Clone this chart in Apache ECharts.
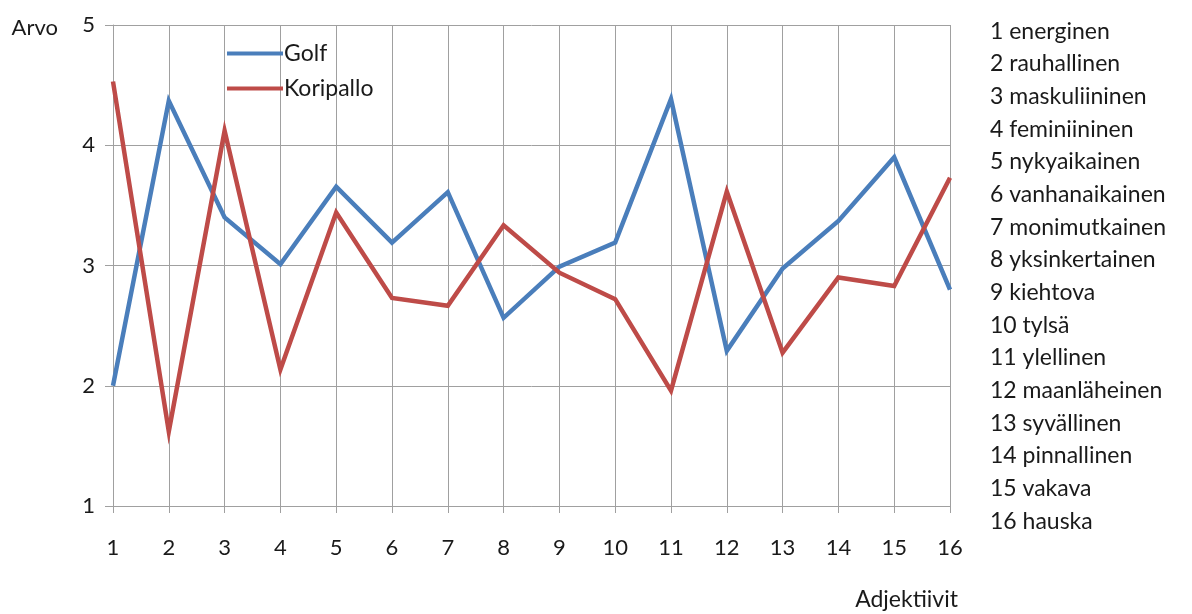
<!DOCTYPE html>
<html>
<head>
<meta charset="utf-8">
<script src="https://cdn.jsdelivr.net/npm/echarts@6/dist/echarts.min.js"></script>
<style>
  html, body { margin: 0; padding: 0; background: #fff; }
  #chart { width: 1192px; height: 614px; }
</style>
</head>
<body>
<div id="chart"></div>
<script>
// Adjective numbers on the x axis and their meanings in the side list
const categories = ['1','2','3','4','5','6','7','8','9','10','11','12','13','14','15','16'];
const adjectives = [
  'energinen', 'rauhallinen', 'maskuliininen', 'feminiininen',
  'nykyaikainen', 'vanhanaikainen', 'monimutkainen', 'yksinkertainen',
  'kiehtova', 'tylsä', 'ylellinen', 'maanläheinen',
  'syvällinen', 'pinnallinen', 'vakava', 'hauska'
];

// Mean ratings per adjective
const golf = [2.00, 4.37, 3.40, 3.01, 3.655, 3.19, 3.61, 2.565, 2.99, 3.19, 4.385, 2.29, 2.975, 3.37, 3.90, 2.80];
const koripallo = [4.53, 1.62, 4.12, 2.135, 3.44, 2.73, 2.665, 3.335, 2.94, 2.72, 1.96, 3.615, 2.275, 2.90, 2.83, 3.73];

const seriesNames = ['Golf', 'Koripallo'];
const yTicks = { min: 1, max: 5, interval: 1 };

const FONT = 'Lato, "Open Sans", sans-serif';
const TEXT = '#1a1a1a';
const GRID = '#a0a0a0';

const chart = echarts.init(document.getElementById('chart'), null, { renderer: 'canvas' });

chart.setOption({
  animation: false,
  backgroundColor: '#ffffff',
  textStyle: { fontFamily: FONT, color: TEXT },
  grid: { left: 113, right: 242, top: 25, bottom: 108, containLabel: false },
  legend: {
    orient: 'vertical',
    left: 222,
    top: 37,
    itemWidth: 56,
    itemHeight: 4,
    itemGap: 12,
    icon: 'rect',
    data: seriesNames,
    textStyle: { fontFamily: FONT, fontSize: 23, color: TEXT, padding: [0, 0, 0, -4] }
  },
  xAxis: {
    type: 'category',
    data: categories,
    boundaryGap: false,
    name: 'Adjektiivit',
    nameLocation: 'end',
    nameGap: 8,
    nameTextStyle: { fontFamily: FONT, fontSize: 23, color: TEXT, align: 'right', verticalAlign: 'top', padding: [82, 0, 0, 0] },
    axisLine: { show: true, lineStyle: { color: GRID, width: 1 } },
    axisTick: { show: true, length: 7, alignWithLabel: true, lineStyle: { color: GRID } },
    axisLabel: { fontFamily: FONT, fontSize: 22, color: TEXT, margin: 31 },
    splitLine: { show: true, lineStyle: { color: GRID, width: 1 } }
  },
  yAxis: {
    type: 'value',
    min: yTicks.min,
    max: yTicks.max,
    interval: yTicks.interval,
    name: 'Arvo',
    nameLocation: 'end',
    nameGap: -3,
    nameTextStyle: { fontFamily: FONT, fontSize: 22, color: TEXT, align: 'right', verticalAlign: 'middle', padding: [0, 55, 0, 0] },
    axisLine: { show: true, lineStyle: { color: GRID, width: 1 } },
    axisTick: { show: true, length: 8, lineStyle: { color: GRID } },
    axisLabel: { fontFamily: FONT, fontSize: 22, color: TEXT, margin: 18 },
    splitLine: { show: true, lineStyle: { color: GRID, width: 1 } }
  },
  series: [
    {
      name: seriesNames[0],
      type: 'line',
      data: golf,
      symbol: 'none',
      color: '#4a7ebb',
      lineStyle: { width: 4.5, color: '#4a7ebb', join: 'miter' }
    },
    {
      name: seriesNames[1],
      type: 'line',
      data: koripallo,
      symbol: 'none',
      color: '#be4b48',
      lineStyle: { width: 4.5, color: '#be4b48', join: 'miter' }
    }
  ],
  graphic: [
    {
      type: 'text',
      left: 990,
      top: 15,
      style: {
        text: adjectives.map((a, i) => (i + 1) + ' ' + a).join('\n'),
        fontFamily: FONT,
        fontSize: 23,
        lineHeight: 32.67,
        fill: TEXT
      }
    }
  ]
});
</script>
</body>
</html>
